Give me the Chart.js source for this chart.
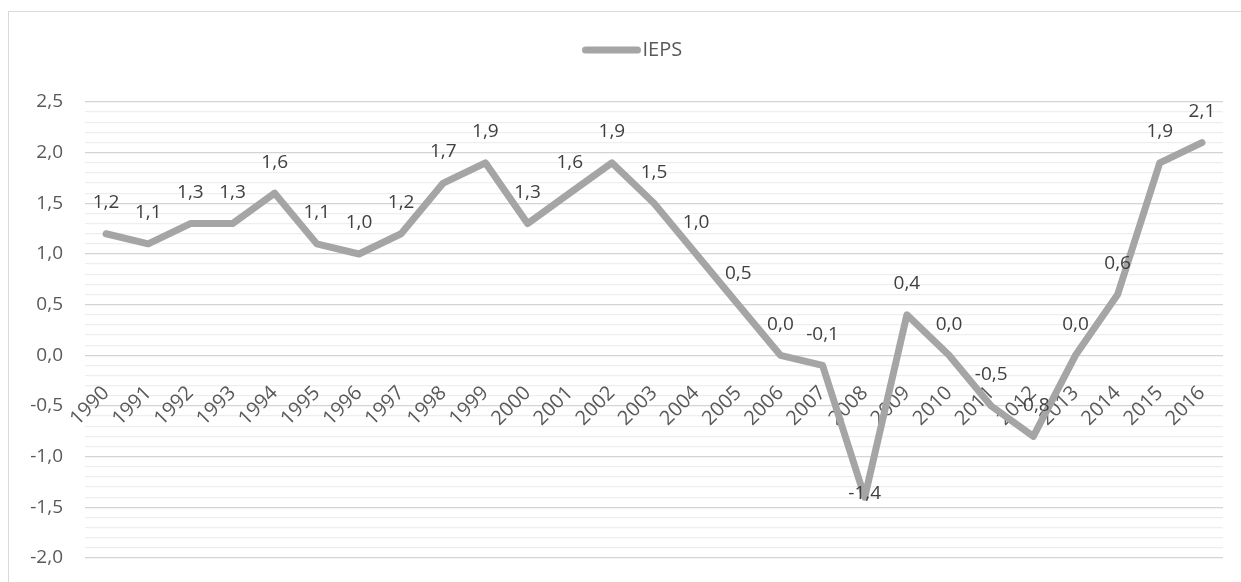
<!DOCTYPE html>
<html>
<head>
<meta charset="utf-8">
<title>IEPS</title>
<script src="https://cdn.jsdelivr.net/npm/chart.js@4/dist/chart.umd.min.js"></script>
<style>
	html, body { margin: 0; padding: 0; background: #fff; overflow: hidden; }
	#box { position: relative; width: 1241px; height: 582px; }
	#cornice { position: absolute; left: 8px; top: 11px; right: -10px; bottom: -10px; border: 1.5px solid #d9d9d9; }
	canvas { position: absolute; left: 0; top: 0; }
</style>
</head>
<body>
<div id="box">
	<div id="cornice"></div>
	<canvas id="grafico" width="1241" height="582"></canvas>
</div>
<script>
// anni e valori della serie IEPS
const anni = ['1990','1991','1992','1993','1994','1995','1996','1997','1998','1999','2000','2001','2002','2003',
	'2004','2005','2006','2007','2008','2009','2010','2011','2012','2013','2014','2015','2016'];
const ieps = [1.2, 1.1, 1.3, 1.3, 1.6, 1.1, 1.0, 1.2, 1.7, 1.9, 1.3, 1.6, 1.9, 1.5,
	1.0, 0.5, 0.0, -0.1, -1.4, 0.4, 0.0, -0.5, -0.8, 0.0, 0.6, 1.9, 2.1];
const asseMin = -2.0;
const asseMax = 2.5;
const passoMinore = 0.1;

const GRIGIO_LINEA = '#a5a5a5';
const TESTO = '#595959';
const FONT = '"Open Sans", "Liberation Sans", sans-serif';

function virgola(v){ return v.toFixed(1).replace('.', ','); }
function maggiore(v){ return Math.abs(Math.round(v * 10)) % 5 === 0; }

// niente margini extra calcolati dagli assi: l'area del grafico la decide layout.padding
function senzaMargini(s){
	s.paddingTop = 0;
	s.paddingBottom = 0;
	s.paddingLeft = 0;
	s.paddingRight = 0;
}

// etichette dei valori sopra i punti
const etichette = {
	id: 'etichette',
	afterDatasetsDraw(chart){
		const ctx = chart.ctx;
		const meta = chart.getDatasetMeta(0);
		ctx.save();
		ctx.font = '19px ' + FONT;
		ctx.fillStyle = '#404040';
		ctx.textAlign = 'center';
		ctx.textBaseline = 'middle';
		meta.data.forEach((p, i) => {
			const su = (i === 18) ? 4 : 31; // il minimo del 2008 ha l'etichetta quasi sul punto
			ctx.fillText(virgola(ieps[i]), p.x, p.y - su);
		});
		ctx.restore();
	}
};

// legenda in alto
const legenda = {
	id: 'legenda',
	afterDraw(chart){
		const ctx = chart.ctx;
		const y = 50;
		const x0 = chart.width / 2 - 38;
		const lung = 58;
		ctx.save();
		ctx.strokeStyle = GRIGIO_LINEA;
		ctx.lineWidth = 7;
		ctx.lineCap = 'round';
		ctx.beginPath();
		ctx.moveTo(x0 + 3, y);
		ctx.lineTo(x0 + lung - 3, y);
		ctx.stroke();
		ctx.font = '20px ' + FONT;
		ctx.fillStyle = TESTO;
		ctx.textBaseline = 'middle';
		ctx.fillText('IEPS', x0 + lung + 2, y);
		ctx.restore();
	}
};

const ctx = document.getElementById('grafico').getContext('2d');
new Chart(ctx, {
	type: 'line',
	data: {
		labels: anni,
		datasets: [{
			label: 'IEPS',
			data: ieps,
			borderColor: GRIGIO_LINEA,
			borderWidth: 7,
			borderCapStyle: 'round',
			borderJoinStyle: 'round',
			pointRadius: 0,
			tension: 0,
			fill: false
		}]
	},
	options: {
		responsive: false,
		animation: false,
		layout: { padding: { top: 102, left: 8, right: 18, bottom: 24 } },
		plugins: {
			legend: { display: false },
			tooltip: { enabled: false }
		},
		scales: {
			x: {
				type: 'category',
				offset: true,
				position: { y: 0 },
				afterFit: senzaMargini,
				grid: { display: false, drawTicks: false },
				border: { display: false },
				ticks: {
					autoSkip: false,
					minRotation: 45,
					maxRotation: 45,
					padding: 26,
					color: TESTO,
					font: { family: FONT, size: 20 }
				}
			},
			y: {
				min: asseMin,
				max: asseMax,
				afterFit(s){ senzaMargini(s); s.width = 77; },
				grid: {
					drawTicks: false,
					lineWidth: 1.3,
					color: c => maggiore(c.tick.value) ? '#d4d4d4' : '#eeeeee'
				},
				border: { display: false },
				ticks: {
					stepSize: passoMinore,
					autoSkip: false,
					padding: 22,
					color: TESTO,
					font: { family: FONT, size: 19 },
					callback: v => maggiore(v) ? virgola(v) : ''
				}
			}
		}
	},
	plugins: [etichette, legenda]
});
</script>
</body>
</html>
